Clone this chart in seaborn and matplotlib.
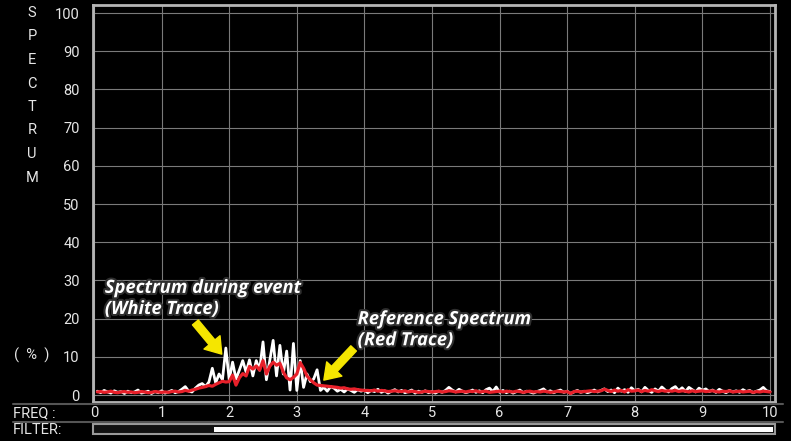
import numpy as np
import pandas as pd
import matplotlib
matplotlib.use("Agg")
import matplotlib.pyplot as plt
import matplotlib.patheffects as pe
from matplotlib.patches import Rectangle
from matplotlib.lines import Line2D
import seaborn as sns

# spectrum bins, 0.05 step
freq = np.round(np.arange(1, 201) * 0.05, 2)

white_trace = [
    1.0, 0.6, 1.2, 0.8, 0.5, 1.1, 0.7, 0.9, 0.4, 1.0, 0.6, 0.8, 1.3, 0.5, 0.7, 1.0, 0.4, 0.9, 0.6, 1.1,
    0.5, 0.8, 1.2, 0.6, 0.9, 1.5, 2.2, 1.0, 0.8, 1.8,
    2.6, 3.0, 2.2, 3.4, 7.0, 3.2, 5.5, 4.0, 12.3, 4.0,
    8.6, 4.2, 6.5, 9.0, 6.0, 9.2, 5.0, 9.0, 6.5, 13.9,
    4.0, 9.0, 14.3, 5.0, 13.0, 5.5, 11.5, 1.3, 13.5, 1.2,
    9.0, 2.0, 5.5, 3.5, 4.2, 6.6, 1.2, 2.0, 1.0, 2.2,
    1.8, 1.0, 1.5, 0.8, 1.6, 1.2, 0.7, 1.4, 1.0, 1.3,
    0.6, 1.2, 0.9, 1.5, 0.7, 1.1, 0.5, 1.0, 1.4, 0.8,
    1.2, 0.6, 0.9, 1.3, 0.5, 1.0, 0.7, 1.1, 0.6, 0.9,
    0.5, 1.0, 0.7, 1.2, 2.0, 1.3, 0.8, 1.5, 1.0, 0.6,
    0.9, 1.3, 0.7, 1.1, 0.6, 1.4, 1.8, 0.9, 2.1, 0.7,
    1.2, 0.6, 1.0, 0.5, 0.9, 1.3, 0.6, 1.0, 0.8, 0.5,
    0.9, 1.2, 1.6, 0.8, 1.1, 0.6, 1.0, 1.3, 0.7, 1.0,
    0.4, 0.8, 1.2, 0.7, 1.0, 0.6, 0.9, 1.3, 0.8, 1.2,
    1.6, 0.9, 1.3, 0.6, 1.8, 1.0, 1.4, 0.7, 1.9, 1.1,
    1.5, 0.8, 2.0, 1.2, 0.7, 1.6, 1.0, 2.1, 1.3, 0.8,
    1.7, 2.2, 1.1, 1.9, 0.9, 2.0, 1.4, 0.8, 1.8, 1.2,
    1.6, 0.9, 1.3, 0.7, 1.5, 1.0, 0.6, 1.2, 0.8, 1.1,
    0.7, 1.4, 0.9, 1.2, 0.6, 1.0, 1.3, 2.0, 1.1, 0.9,
]

red_trace = [
    0.8, 0.9, 0.7, 0.8, 1.0, 0.7, 0.6, 0.8, 0.9, 0.7, 0.8, 0.6, 0.7, 0.9, 0.8, 0.6, 0.7, 0.9, 0.8, 0.7,
    0.8, 0.7, 0.9, 1.0, 0.8, 0.9, 1.2, 1.0, 1.3, 1.5,
    1.8, 2.0, 2.2, 2.5, 2.3, 2.8, 3.2, 3.6, 3.4, 3.5,
    5.2, 2.6, 4.5, 5.6, 5.0, 7.5, 6.8, 7.6, 6.5, 9.0,
    5.5, 7.5, 8.6, 7.8, 8.3, 6.0, 4.5, 4.0, 4.6, 5.5,
    8.5, 7.0, 5.0, 4.0, 3.2, 2.6, 2.5, 2.4, 2.3, 2.2,
    2.1, 2.0, 1.8, 1.9, 1.6, 1.5, 1.6, 1.4, 1.3, 1.2,
    1.2, 1.1, 1.3, 1.0, 1.2, 1.1, 0.9, 1.0, 1.1, 1.0,
    0.9, 1.1, 0.8, 1.0, 0.9, 0.7, 0.8, 1.0, 0.9, 0.8,
    0.9, 1.0, 0.8, 0.9, 1.1, 1.0, 0.8, 0.9, 1.0, 0.8,
    1.0, 0.9, 1.1, 0.8, 0.9, 1.0, 0.7, 0.8, 0.9, 1.0,
    0.8, 1.0, 0.9, 0.8, 1.0, 0.9, 0.7, 0.9, 1.0, 0.8,
    0.9, 0.8, 1.0, 0.9, 0.7, 0.8, 1.0, 0.9, 0.8, 0.9,
    0.4, 0.9, 1.0, 0.8, 0.9, 1.0, 1.1, 0.9, 1.0, 1.1,
    1.5, 1.2, 0.9, 1.3, 1.0, 1.2, 0.8, 1.4, 1.0, 1.1,
    1.3, 0.9, 1.2, 1.0, 1.4, 1.1, 0.9, 1.2, 1.0, 1.1,
    1.0, 1.2, 0.9, 1.1, 1.0, 0.8, 1.1, 0.9, 1.0, 1.1,
    0.9, 1.0, 1.1, 0.9, 0.8, 1.0, 0.9, 1.1, 0.8, 0.9,
    1.0, 0.8, 0.9, 1.0, 0.7, 0.9, 0.8, 1.0, 0.9, 0.8,
]

x_ticks = list(range(0, 11))
y_ticks = list(range(0, 101, 10))
filter_level = 1.78  # white part of the filter bar starts here (freq units)

df = pd.DataFrame({"freq": freq, "white": white_trace, "red": red_trace})

sns.set_style("dark")
plt.rcParams["font.family"] = ["Roboto", "DejaVu Sans"]

W, H = 791, 441
fig = plt.figure(figsize=(W / 100, H / 100), dpi=100, facecolor="black")
ax = fig.add_axes([93 / W, (H - 402) / H, 682 / W, 397 / H])
ax.set_facecolor("black")

sns.lineplot(data=df, x="freq", y="white", ax=ax, color="white", linewidth=2.0, zorder=3)
sns.lineplot(data=df, x="freq", y="red", ax=ax, color="#e8202a", linewidth=2.3, zorder=4)

ax.set_xlim(-0.015, 10.074)
ax.set_ylim(-1.83, 102.1)
ax.set_xticks(x_ticks)
ax.set_yticks(y_ticks)
ax.grid(True, color="#7a7a7a", linewidth=0.8)
ax.tick_params(axis="both", length=0, colors="#e6e6e6", labelsize=10.5)
ax.tick_params(axis="y", pad=9.5)
ax.tick_params(axis="x", pad=3)
ax.set_xlabel("")
ax.set_ylabel("")
for s in ax.spines.values():
    s.set_visible(True)
    s.set_color("#b5b5b5")
    s.set_linewidth(2)

# annotations
shadow = [pe.withStroke(linewidth=3, foreground="#2e2e2e")]
ax.text(0.16, 30.4, "Spectrum during event\n(White Trace)", color="white", fontsize=13.2,
        fontweight="bold", fontstyle="italic", family="Open Sans", va="top", ha="left",
        linespacing=1.22, path_effects=shadow, zorder=6)
ax.text(3.9, 22.2, "Reference Spectrum\n(Red Trace)", color="white", fontsize=13.2,
        fontweight="bold", fontstyle="italic", family="Open Sans", va="top", ha="left",
        linespacing=1.22, path_effects=shadow, zorder=6)

arrow = dict(arrowstyle="simple,head_width=1.5,head_length=1.1,tail_width=0.55",
             color="#f5e600", shrinkA=0, shrinkB=0)
ax.annotate("", xy=(1.89, 10.7), xytext=(1.50, 19.0), arrowprops=arrow, zorder=7)
ax.annotate("", xy=(3.40, 3.9), xytext=(3.84, 12.2), arrowprops=arrow, zorder=7)

# left labels
for i, ch in enumerate("SPECTRUM"):
    fig.text(32 / W, 1 - (13 + i * 23.5) / H, ch, color="#e6e6e6", fontsize=10.5,
             ha="center", va="center")
fig.text(32 / W, 1 - 355 / H, "(  %  )", color="#e6e6e6", fontsize=10.5, ha="center", va="center")

# bottom strip
fig.add_artist(Line2D([13 / W, 783 / W], [1 - 404 / H, 1 - 404 / H], color="#555555", linewidth=1.5))
fig.add_artist(Line2D([13 / W, 783 / W], [1 - 422 / H, 1 - 422 / H], color="#555555", linewidth=1.5))
fig.text(13 / W, 1 - 413 / H, "FREQ :", color="#e6e6e6", fontsize=10.5, ha="left", va="center")
fig.text(13 / W, 1 - 430 / H, "FILTER:", color="#e6e6e6", fontsize=10.5, ha="left", va="center")

fig.add_artist(Rectangle((93 / W, 1 - 434 / H), 682 / W, 10 / H, transform=fig.transFigure,
                         facecolor="#111111", edgecolor="#9a9a9a", linewidth=1.5))
fx = 94 + filter_level * 67.6
fig.add_artist(Rectangle((fx / W, 1 - 432 / H), (773 - fx) / W, 5 / H, transform=fig.transFigure,
                         facecolor="white", edgecolor="none"))

fig.savefig("out.png", dpi=100, facecolor="black")
